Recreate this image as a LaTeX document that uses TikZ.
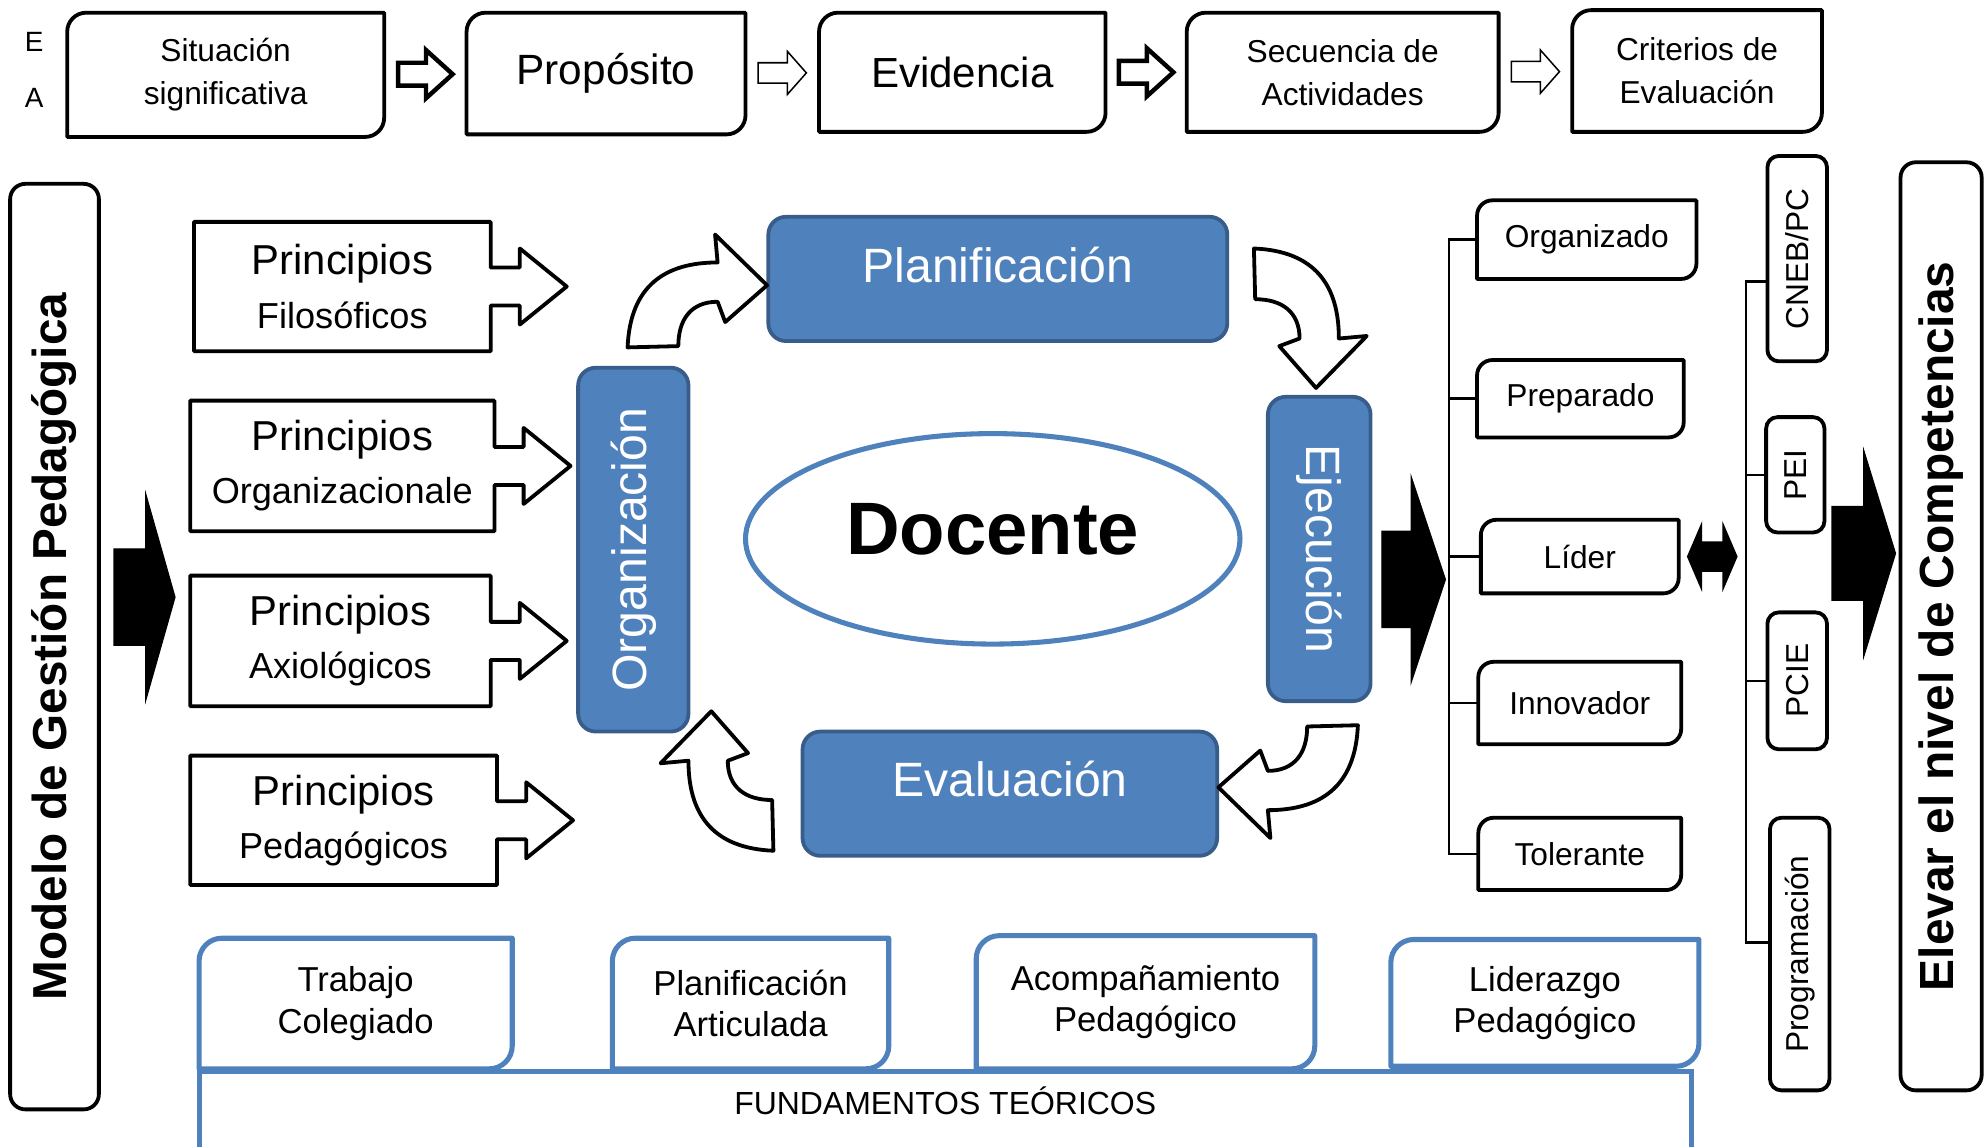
\documentclass[tikz,border=0pt]{standalone}
\usepackage{fontspec}
\usepackage{graphicx}
\setmainfont{Liberation Sans}
\usetikzlibrary{calc,shapes.geometric}

\definecolor{mblue}{HTML}{4F81BD}
\definecolor{mblueedge}{HTML}{385D8A}

\tikzset{
  txt/.style={inner sep=0pt, outer sep=0pt, align=center},
  boxline/.style={line width=3pt, line join=round},
  tabline/.style={draw=mblue, line width=4pt, line join=round},
  stem/.style={line width=2pt},
  phase/.style={txt, draw=mblueedge, fill=mblue, line width=3pt, rounded corners=14pt, text=white, font=\fontsize{38}{46}\selectfont},
  vbox/.style={txt, draw, line width=3pt, rounded corners=9pt, font=\fontsize{25}{30}\selectfont},
  quality/.style={txt, font=\fontsize{25}{30}\selectfont},
  princ/.style={txt, font=\fontsize{28.5}{42}\selectfont},
  tabtxt/.style={txt, font=\fontsize{27.3}{32.5}\selectfont},
  block/.style={fill=black, draw=black, line width=1pt},
  hollow/.style={draw=black, fill=white},
  bent/.pic={\draw[line width=3pt, line join=round, fill=white]
    (-55,44) .. controls (-53,-5) and (-25,-23) .. (16,-23) -- (14,-45) -- (55,-5)
    -- (22,24) -- (16,8) .. controls (-5,8) and (-15,22) .. (-15,43) -- cycle;}
}

% frame with rounded top left and bottom right corners
\newcommand{\diagframe}[3][boxline]{%
  \draw[#1] (#2.south west) -- ([yshift=-#3pt]#2.north west)
    .. controls ([yshift=-0.45*#3pt]#2.north west) and ([xshift=0.45*#3pt]#2.north west) .. ([xshift=#3pt]#2.north west)
    -- (#2.north east) -- ([yshift=#3pt]#2.south east)
    .. controls ([yshift=0.45*#3pt]#2.south east) and ([xshift=-0.45*#3pt]#2.south east) .. ([xshift=-#3pt]#2.south east) -- cycle;}

% box with an arrow on its right side
\newcommand{\princframe}[1]{%
  \draw[boxline] (#1.north west) -- (#1.north east) -- ([yshift=15pt]#1.east)
    -- ++(23,0) -- ++(0,-15) -- ([xshift=60pt]#1.east) -- ++(-37,30)
    -- ++(0,-15) -- ++(-23,0) -- (#1.south east) -- (#1.south west) -- cycle;}

% block arrow: centre, length, shaft length, half shaft, half head
\newcommand{\blockarrow}[6][]{%
  \draw[#1] ($(#2)+(-#3/2,-#5)$) -- ++(#4,0) -- ++(0,#5-#6)
    -- ($(#2)+(#3/2,0)$) -- ($(#2)+(-#3/2+#4,#6)$) -- ++(0,#5-#6) -- ++(-#4,0) -- cycle;}

\begin{document}
\begin{tikzpicture}[x=1pt, y=-1pt]

\useasboundingbox (0,0) rectangle (1568,904);

% top row
\node[txt, font=\fontsize{22}{26}\selectfont] (e) at (27,33) {E};
\node[txt, font=\fontsize{22}{26}\selectfont] (a) at (27,77) {A};
\node[txt, minimum width=250pt, minimum height=98pt, font=\fontsize{25}{34}\selectfont] (sit) at (178,59) {Situación\\significativa};
\node[txt, minimum width=220pt, minimum height=96pt, font=\fontsize{33.4}{40}\selectfont] (prop) at (478,58) {Propósito};
\node[txt, minimum width=226pt, minimum height=94pt, font=\fontsize{33.2}{40}\selectfont] (evid) at (759,57) {Evidencia};
\node[txt, minimum width=246pt, minimum height=94pt, font=\fontsize{25}{34}\selectfont] (sec) at (1059,57) {Secuencia de\\Actividades};
\node[txt, minimum width=197pt, minimum height=96pt, font=\fontsize{25}{34}\selectfont] (crit) at (1338.5,56) {Criterios de\\Evaluación};
\foreach \n in {sit,prop,evid,sec,crit} \diagframe{\n}{15};

\coordinate (ar1) at ($(sit.east)!0.5!(prop.west)$);
\coordinate (ar2) at ($(prop.east)!0.5!(evid.west)$);
\coordinate (ar3) at ($(evid.east)!0.5!(sec.west)$);
\coordinate (ar4) at ($(sec.east)!0.5!(crit.west)$);
\blockarrow[hollow, line width=3.5pt]{ar1}{43}{22}{9}{19}
\blockarrow[hollow, line width=1.2pt]{ar2}{38}{23}{8}{17}
\blockarrow[hollow, line width=3.5pt]{ar3}{43}{22}{9}{19}
\blockarrow[hollow, line width=1.2pt]{ar4}{38}{23}{8}{17}

% left side
\node[txt, draw, line width=3pt, rounded corners=12pt, minimum width=70pt, minimum height=730pt, font=\bfseries\fontsize{37.6}{40}\selectfont] (modelo) at (43,510) {\rotatebox{90}{Modelo de Gestión Pedagógica}};
\coordinate (bl) at (114,471);
\blockarrow[block]{bl}{48}{25}{38}{81}

\node[princ, minimum width=234pt, minimum height=102pt] (pfil) at (270,226) {{\fontsize{33}{42}\selectfont Principios}\\Filosóficos};
\node[princ, minimum width=240pt, minimum height=103pt] (porg) at (270,367.5) {{\fontsize{33}{42}\selectfont Principios}\\Organizacionale};
\node[princ, minimum width=237pt, minimum height=103pt] (paxi) at (268.5,505.5) {{\fontsize{33}{42}\selectfont Principios}\\Axiológicos};
\node[princ, minimum width=242pt, minimum height=102pt] (pped) at (271,647) {{\fontsize{33}{42}\selectfont Principios}\\Pedagógicos};
\foreach \n in {pfil,porg,paxi,pped} \princframe{\n};

% cycle
\node[phase, minimum width=362pt, minimum height=98pt, text height=27pt, text depth=22pt] (plan) at (787,220) {Planificación};
\node[phase, minimum width=87pt, minimum height=287pt] (orga) at (499.5,433.5) {\rotatebox{90}{Organización}};
\node[phase, minimum width=81pt, minimum height=240pt] (ejec) at (1040.5,433) {\rotatebox{-90}{Ejecución}};
\node[phase, minimum width=327pt, minimum height=98pt, text height=27pt, text depth=22pt] (eval) at (796.5,626) {Evaluación};
\node[ellipse, draw=mblue, line width=4pt, inner sep=0pt, minimum width=390pt, minimum height=166pt, text height=42pt, text depth=18pt, font=\bfseries\fontsize{58.6}{60}\selectfont] (doc) at (783,425) {Docente};

\pic at (550,230) {bent};
\pic[rotate=-90] at (1033,251) {bent};
\pic[rotate=180] at (1016,616) {bent};
\pic[rotate=90] at (566,616) {bent};

\coordinate (bm) at (1115,457);
\blockarrow[block]{bm}{50}{23}{38}{81}

% qualities
\node[quality, minimum width=173pt, minimum height=62pt] (orgz) at (1251.5,189) {Organizado};
\node[quality, minimum width=163pt, minimum height=61pt] (prep) at (1246.5,314.5) {Preparado};
\node[quality, minimum width=156pt, minimum height=58pt] (lider) at (1246,439) {Líder};
\node[quality, minimum width=160pt, minimum height=65pt] (innov) at (1246,554.5) {Innovador};
\node[quality, minimum width=160pt, minimum height=57pt] (tol) at (1246,673.5) {Tolerante};
\foreach \n in {orgz,prep,lider,innov,tol} \diagframe{\n}{12};

\coordinate (t1) at (1143,0);
\draw[stem] (orgz.west) -- (orgz.west -| t1) -- (tol.west -| t1) -- (tol.west);
\foreach \n in {prep,lider,innov} \draw[stem] (\n.west) -- (\n.west -| t1);

% documents
\node[vbox, minimum width=47pt, minimum height=162pt] (cneb) at (1417.5,204) {\rotatebox{90}{CNEB/PC}};
\node[vbox, minimum width=46pt, minimum height=91pt] (pei) at (1416,374.5) {\rotatebox{90}{PEI}};
\node[vbox, minimum width=47pt, minimum height=108pt] (pcie) at (1417.5,537) {\rotatebox{90}{PCIE}};
\node[vbox, minimum width=47pt, minimum height=215pt] (prog) at (1419.5,752.5) {\rotatebox{90}{Programación}};

\coordinate (t2) at (1377,0);
\coordinate (bcneb) at ([yshift=-18pt]cneb.west);
\coordinate (bprog) at ([yshift=9pt]prog.west);
\draw[stem] (bcneb) -- (bcneb -| t2) -- (bprog -| t2) -- (bprog);
\foreach \n in {pei,pcie} \draw[stem] (\n.west) -- (\n.west -| t2);

\coordinate (dbl) at ($(lider.east)!0.5!(lider.east -| t2)$);
\fill (dbl) ++(-20,0) -- ++(12,-28) -- ++(0,16) -- ++(16,0) -- ++(0,-16) -- ++(12,28)
  -- ++(-12,28) -- ++(0,-16) -- ++(-16,0) -- ++(0,16) -- cycle;

\coordinate (br) at (1470,436.5);
\blockarrow[block]{br}{50}{25}{37}{81}
\node[txt, draw, line width=3pt, rounded corners=12pt, minimum width=64pt, minimum height=732pt, font=\bfseries\fontsize{37.8}{40}\selectfont] (elevar) at (1531,494) {\rotatebox{90}{Elevar el nivel de Competencias}};

% bottom
\node[tabtxt, minimum width=247pt, minimum height=103pt] (trab) at (280.5,791.5) {Trabajo\\Colegiado};
\node[tabtxt, minimum width=218pt, minimum height=103pt] (plart) at (592,791.5) {Planificación\\Articulada};
\node[tabtxt, minimum width=267pt, minimum height=105pt] (acom) at (903.5,790.5) {Acompañamiento\\Pedagógico};
\node[tabtxt, minimum width=243pt, minimum height=100pt] (lidp) at (1218.5,791) {Liderazgo\\Pedagógico};
\foreach \n in {trab,plart,acom,lidp} \diagframe[tabline]{\n}{18};
\node[txt, draw=mblue, line width=4pt, minimum width=1177pt, minimum height=70pt, text height=18pt, text depth=20pt, font=\fontsize{25.2}{30}\selectfont] (fund) at (745.5,880) {FUNDAMENTOS TEÓRICOS};

\end{tikzpicture}
\end{document}
